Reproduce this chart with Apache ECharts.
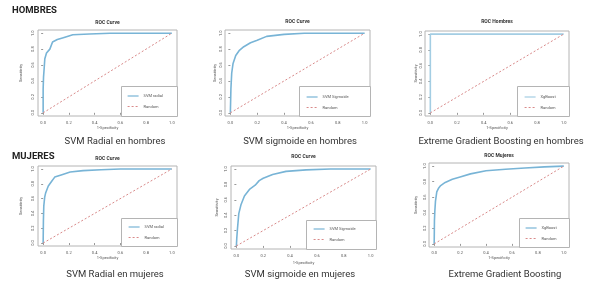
<!DOCTYPE html>
<html>
<head>
<meta charset="utf-8">
<script src="https://cdn.jsdelivr.net/npm/echarts@6/dist/echarts.min.js"></script>
<style>
    html, body { margin: 0; padding: 0; background: #fff; }
    #roc { width: 600px; height: 284px; }
</style>
</head>
<body>
<div id="roc"></div>
<script>
// ticks de los ejes
var ticks = [0, 0.2, 0.4, 0.6, 0.8, 1.0];

// linea aleatoria
var randomX = [0, 1];
var randomY = [0, 1];

// SVM radial - hombres
var radialHombresX = [0, 0, 0.003, 0.008, 0.013, 0.026, 0.052, 0.073, 0.11, 0.15, 0.2, 0.23, 0.36, 0.52, 1];
var radialHombresY = [0, 0.3, 0.45, 0.56, 0.68, 0.75, 0.80, 0.89, 0.92, 0.94, 0.965, 0.98, 0.99, 1, 1];

// SVM sigmoide - hombres
var sigmoideHombresX = [0, 0.004, 0.01, 0.02, 0.04, 0.065, 0.1, 0.15, 0.2, 0.27, 0.4, 0.55, 1];
var sigmoideHombresY = [0, 0.3, 0.5, 0.62, 0.72, 0.78, 0.83, 0.88, 0.91, 0.96, 0.985, 1, 1];

// XgBoost - hombres
var xgbHombresX = [0, 0, 1];
var xgbHombresY = [0, 1, 1];

// SVM radial - mujeres
var radialMujeresX = [0, 0.002, 0.005, 0.012, 0.02, 0.04, 0.065, 0.09, 0.14, 0.21, 0.31, 0.45, 0.6, 1];
var radialMujeresY = [0, 0.3, 0.5, 0.62, 0.68, 0.77, 0.83, 0.89, 0.92, 0.96, 0.977, 0.99, 1, 1];

// SVM sigmoide - mujeres
var sigmoideMujeresX = [0, 0.003, 0.008, 0.018, 0.035, 0.06, 0.1, 0.14, 0.17, 0.2, 0.27, 0.37, 0.52, 0.7, 1];
var sigmoideMujeresY = [0, 0.1, 0.22, 0.42, 0.54, 0.65, 0.74, 0.79, 0.85, 0.88, 0.93, 0.97, 0.99, 1, 1];

// XgBoost - mujeres
var xgbMujeresX = [0, 0.002, 0.005, 0.01, 0.02, 0.035, 0.05, 0.085, 0.14, 0.2, 0.28, 0.4, 0.55, 0.7, 0.85, 1];
var xgbMujeresY = [0, 0.3, 0.42, 0.55, 0.67, 0.72, 0.75, 0.79, 0.83, 0.86, 0.9, 0.94, 0.96, 0.975, 0.99, 1];

var blue = '#78b4d6';
var red = '#d98a8a';
var noSymbol = { color: 'rgba(0,0,0,0)', borderColor: 'rgba(0,0,0,0)', borderWidth: 0, opacity: 0 };

function zip(xs, ys) {
    var out = [];
    for (var i = 0; i < xs.length; i++) {
        out.push([xs[i], ys[i]]);
    }
    return out;
}

// paneles: grid, textos y leyenda
var panels = [
    { title: 'ROC Curve', name: 'SVM radial', x: radialHombresX, y: radialHombresY, color: blue,
      grid: [38, 30, 139, 86], titleY: 23, leg: [121, 86, 56, 30], legRow: 96, legLeft: 127, yLabel: 3, yName: 15, xLabel: 5, xName: 9 },
    { title: 'ROC Curve', name: 'SVM Sigmoide', x: sigmoideHombresX, y: sigmoideHombresY, color: blue,
      grid: [225, 30, 145, 86], titleY: 22, leg: [299, 86, 71, 30], legRow: 97, legLeft: 306, yLabel: 2, yName: 8, xLabel: 5, xName: 9 },
    { title: 'ROC Hombres', name: 'XgBoost', x: xgbHombresX, y: xgbHombresY, color: '#a3cde3',
      grid: [425, 31, 144, 85], titleY: 22, leg: [517, 86, 52, 30], legRow: 97, legLeft: 524, yLabel: 2, yName: 6, xLabel: 5, xName: 9 },
    { title: 'ROC Curve', name: 'SVM radial', x: radialMujeresX, y: radialMujeresY, color: blue,
      grid: [38, 166, 139, 80], titleY: 159, leg: [121, 218, 56, 28], legRow: 227, legLeft: 128, yLabel: 3, yName: 15, xLabel: 5, xName: 9 },
    { title: 'ROC Curve', name: 'SVM Sigmoide', x: sigmoideMujeresX, y: sigmoideMujeresY, color: blue,
      grid: [231, 166, 145, 83], titleY: 157, leg: [306, 220, 70, 29], legRow: 229, legLeft: 313, yLabel: 3, yName: 12, xLabel: 5, xName: 12 },
    { title: 'ROC Mujeres', name: 'XgBoost', x: xgbMujeresX, y: xgbMujeresY, color: blue,
      grid: [429, 163, 140, 84], titleY: 156, leg: [519, 218, 50, 29], legRow: 228, legLeft: 525, yLabel: 2, yName: 11, xLabel: 4, xName: 9 }
];

var captions = [
    { text: 'SVM Radial en hombres', x: 115, y: 142 },
    { text: 'SVM sigmoide en hombres', x: 300, y: 142 },
    { text: 'Extreme Gradient Boosting en hombres', x: 501, y: 142 },
    { text: 'SVM Radial en mujeres', x: 115, y: 275 },
    { text: 'SVM sigmoide en mujeres', x: 300, y: 275 },
    { text: 'Extreme Gradient Boosting', x: 505, y: 275 }
];

function text(str, x, y, font, color, align) {
    return {
        type: 'text', x: x, y: y, z: 10,
        style: { text: str, font: font, fill: color, textAlign: align || 'center', textVerticalAlign: 'middle' }
    };
}

var grids = [], xAxes = [], yAxes = [], series = [], legends = [], graphics = [];

graphics.push(text('HOMBRES', 12, 11, 'bold 9.5px Roboto', '#222', 'left'));
graphics.push(text('MUJERES', 12, 157, 'bold 9.5px Roboto', '#222', 'left'));

panels.forEach(function (p, i) {
    grids.push({
        left: p.grid[0], top: p.grid[1], width: p.grid[2], height: p.grid[3],
        show: true, borderColor: '#b4b4b4', borderWidth: 1, backgroundColor: 'transparent'
    });
    xAxes.push({
        gridIndex: i, type: 'value', min: -0.04, max: 1.04,
        name: '1-Specificity', nameLocation: 'middle', nameGap: p.xName,
        nameTextStyle: { fontSize: 4, color: '#555' },
        splitLine: { show: false },
        axisLine: { show: false },
        axisTick: { show: true, length: 2, customValues: ticks, lineStyle: { color: '#999' } },
        axisLabel: { customValues: ticks, fontSize: 4, color: '#555', margin: p.xLabel,
            formatter: function (v) { return v.toFixed(1); } }
    });
    yAxes.push({
        gridIndex: i, type: 'value', min: -0.04, max: 1.04,
        name: 'Sensitivity', nameLocation: 'middle', nameGap: p.yName, nameRotate: 90,
        nameTextStyle: { fontSize: 4, color: '#555' },
        splitLine: { show: false },
        axisLine: { show: false },
        axisTick: { show: true, length: 2, customValues: ticks, lineStyle: { color: '#999' } },
        axisLabel: { customValues: ticks, fontSize: 4, color: '#555', margin: p.yLabel, rotate: 90,
            formatter: function (v) { return v.toFixed(1); } }
    });
    series.push({
        name: p.name, type: 'line', xAxisIndex: i, yAxisIndex: i,
        symbol: 'none', silent: true,
        lineStyle: { color: p.color, width: 1.6 },
        itemStyle: { color: p.color },
        data: zip(p.x, p.y)
    });
    series.push({
        name: 'Random', type: 'line', xAxisIndex: i, yAxisIndex: i,
        symbol: 'none', silent: true,
        lineStyle: { color: red, width: 1, type: [2, 2] },
        itemStyle: { color: red },
        data: zip(randomX, randomY)
    });
    // caja de la leyenda debajo, leyenda encima (solo linea, sin simbolo)
    legends.push({
        orient: 'vertical', left: p.legLeft, top: p.legRow - 2.5, z: 20,
        padding: 0, itemWidth: 11, itemHeight: 4, itemGap: 5.5, selectedMode: false,
        textStyle: { fontSize: 4, color: '#555', lineHeight: 5 },
        data: [
            { name: p.name, lineStyle: { color: p.color, width: 1.2 }, itemStyle: noSymbol },
            { name: 'Random', lineStyle: { color: red, width: 1, type: [2, 2] }, itemStyle: noSymbol }
        ]
    });
    graphics.push({
        type: 'rect', z: 1,
        shape: { x: p.leg[0] + 0.5, y: p.leg[1] + 0.5, width: p.leg[2], height: p.leg[3] },
        style: { fill: '#fff', stroke: '#b4b4b4', lineWidth: 1 }
    });
    graphics.push(text(p.title, p.grid[0] + p.grid[2] / 2, p.titleY, 'bold 5px Roboto', '#333'));
});

captions.forEach(function (c) {
    graphics.push(text(c.text, c.x, c.y, '9.5px Roboto', '#333'));
});

var myChart = echarts.init(document.getElementById('roc'));
var option = {
    animation: false,
    backgroundColor: '#fff',
    textStyle: { fontFamily: 'Roboto' },
    grid: grids,
    xAxis: xAxes,
    yAxis: yAxes,
    legend: legends,
    graphic: graphics,
    series: series
};
myChart.setOption(option, true);
</script>
</body>
</html>
